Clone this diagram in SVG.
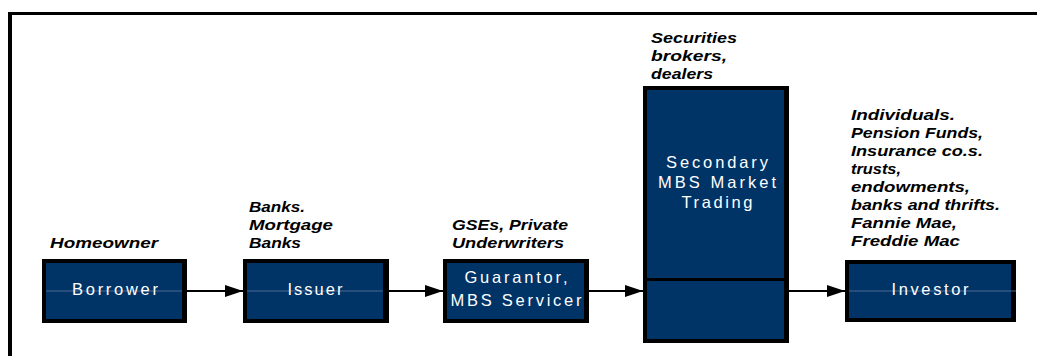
<svg xmlns="http://www.w3.org/2000/svg" width="1037" height="356" viewBox="0 0 1037 356">
<style>
.frame{stroke:#000;fill:none}
.box{fill:#000}
.inner{fill:#003366}
.thru{stroke:#4a6b93;stroke-width:1}
.bt{font-family:"Liberation Sans",Arial,sans-serif;font-size:16.5px;fill:#fff;text-anchor:middle}
.lb{font-family:"Liberation Sans",Arial,sans-serif;font-size:14px;font-weight:bold;font-style:italic;fill:#000}
.conn{stroke:#000;stroke-width:2;fill:none}
</style>
<defs>
<marker id="arr" viewBox="0 0 18 12" refX="18" refY="6" markerWidth="18" markerHeight="12" markerUnits="userSpaceOnUse" orient="auto">
<path d="M0,0 L18,6 L0,12 Z" fill="#000"/>
</marker>
</defs>
<rect width="1037" height="356" fill="#fff"/>
<g id="frame">
<line class="frame" x1="8" y1="13.5" x2="1037" y2="13.5" stroke-width="3"/>
<line class="frame" x1="10" y1="12" x2="10" y2="356" stroke-width="4"/>
</g>
<g id="connectors">
<line class="conn" x1="187" y1="291" x2="243" y2="291" marker-end="url(#arr)"/>
<line class="conn" x1="389" y1="291" x2="443" y2="291" marker-end="url(#arr)"/>
<line class="conn" x1="589" y1="291" x2="643" y2="291" marker-end="url(#arr)"/>
<line class="conn" x1="789" y1="291" x2="845" y2="291" marker-end="url(#arr)"/>
</g>
<g id="borrower">
<rect class="box" x="42" y="259" width="145" height="64"/>
<rect class="inner" x="46" y="263" width="136" height="56"/>
<line class="thru" x1="46" y1="291" x2="182" y2="291"/>
<text class="bt" x="115" y="295" textLength="86">Borrower</text>
<text class="lb" x="50" y="248" textLength="108" lengthAdjust="spacingAndGlyphs">Homeowner</text>
</g>
<g id="issuer">
<rect class="box" x="243" y="259" width="146" height="64"/>
<rect class="inner" x="247" y="263" width="136" height="56"/>
<line class="thru" x1="247" y1="291" x2="383" y2="291"/>
<text class="bt" x="315" y="295" textLength="55">Issuer</text>
<text class="lb" x="249" y="212" textLength="56" lengthAdjust="spacingAndGlyphs">Banks.</text>
<text class="lb" x="249" y="230" textLength="84" lengthAdjust="spacingAndGlyphs">Mortgage</text>
<text class="lb" x="249" y="248" textLength="52" lengthAdjust="spacingAndGlyphs">Banks</text>
</g>
<g id="guarantor">
<rect class="box" x="443" y="259" width="146" height="64"/>
<rect class="inner" x="447" y="263" width="137" height="56"/>
<text class="bt" x="516" y="283" textLength="103">Guarantor,</text>
<text class="bt" x="516" y="306" textLength="131">MBS Servicer</text>
<text class="lb" x="452" y="230" textLength="116" lengthAdjust="spacingAndGlyphs">GSEs, Private</text>
<text class="lb" x="452" y="248" textLength="112" lengthAdjust="spacingAndGlyphs">Underwriters</text>
</g>
<g id="secondary">
<rect class="box" x="643" y="86" width="146" height="257"/>
<rect class="inner" x="647" y="90" width="137" height="188"/>
<rect class="inner" x="647" y="281" width="137" height="58"/>
<text class="bt" x="717" y="168" textLength="102">Secondary</text>
<text class="bt" x="717" y="188" textLength="118">MBS Market</text>
<text class="bt" x="717" y="208" textLength="71">Trading</text>
<text class="lb" x="651" y="43" textLength="86" lengthAdjust="spacingAndGlyphs">Securities</text>
<text class="lb" x="651" y="61" textLength="76" lengthAdjust="spacingAndGlyphs">brokers,</text>
<text class="lb" x="651" y="79" textLength="62" lengthAdjust="spacingAndGlyphs">dealers</text>
</g>
<g id="investor">
<rect class="box" x="845" y="260" width="171" height="62"/>
<rect class="inner" x="849" y="264" width="162" height="54"/>
<line class="thru" x1="849" y1="291" x2="1016" y2="291"/>
<text class="bt" x="930" y="295" textLength="77">Investor</text>
<text class="lb" x="851" y="120" textLength="104" lengthAdjust="spacingAndGlyphs">Individuals.</text>
<text class="lb" x="851" y="138" textLength="132" lengthAdjust="spacingAndGlyphs">Pension Funds,</text>
<text class="lb" x="851" y="156" textLength="132" lengthAdjust="spacingAndGlyphs">Insurance co.s.</text>
<text class="lb" x="851" y="174" textLength="50" lengthAdjust="spacingAndGlyphs">trusts,</text>
<text class="lb" x="851" y="192" textLength="119" lengthAdjust="spacingAndGlyphs">endowments,</text>
<text class="lb" x="851" y="210" textLength="149" lengthAdjust="spacingAndGlyphs">banks and thrifts.</text>
<text class="lb" x="851" y="228" textLength="106" lengthAdjust="spacingAndGlyphs">Fannie Mae,</text>
<text class="lb" x="851" y="246" textLength="109" lengthAdjust="spacingAndGlyphs">Freddie Mac</text>
</g>
</svg>
